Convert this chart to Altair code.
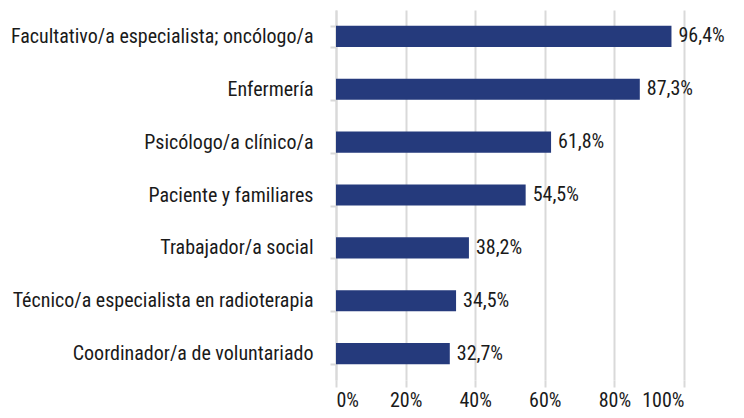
import altair as alt
import pandas as pd

categories = [
    "Facultativo/a especialista; oncólogo/a",
    "Enfermería",
    "Psicólogo/a clínico/a",
    "Paciente y familiares",
    "Trabajador/a social",
    "Técnico/a especialista en radioterapia",
    "Coordinador/a de voluntariado",
]
values = [96.4, 87.3, 61.8, 54.5, 38.2, 34.5, 32.7]

df = pd.DataFrame({"cat": categories, "v": [x / 100 for x in values]})

FONT = "Roboto Condensed, DejaVu Sans Condensed, sans-serif"
FS = 20

y = alt.Y("cat:N", sort=categories, title=None,
          scale=alt.Scale(paddingInner=0.6, paddingOuter=0.3),
          axis=alt.Axis(labelFont=FONT, labelFontSize=FS, labelColor="#1a1a1a",
                        labelPadding=17, tickBand="extent", tickColor="#d9d9d9",
                        tickSize=6, tickWidth=2, domainColor="#d9d9d9", domainWidth=2,
                        labelLimit=400))
x = alt.X("v:Q", title=None,
          scale=alt.Scale(domain=[0, 1], nice=False),
          axis=alt.Axis(format=".0%", values=[0, 0.2, 0.4, 0.6, 0.8, 1.0],
                        labelFont=FONT, labelFontSize=FS, labelColor="#1a1a1a",
                        gridColor="#d9d9d9", gridWidth=2, domain=False,
                        tickColor="#d9d9d9", tickWidth=2, tickSize=7, labelPadding=3))

base = alt.Chart(df)
bars = base.mark_bar(color="#253a7c").encode(x=x, y=y)
text = base.transform_calculate(
    lab="replace(format(datum.v, '.1%'), '.', ',')"
).mark_text(align="left", dx=7, font=FONT, fontSize=FS, color="#1a1a1a").encode(
    x="v:Q", y=alt.Y("cat:N", sort=categories), text="lab:N")

chart = (bars + text).properties(
    width=348, height=370,
    autosize=alt.AutoSizeParams(type="none"),
    padding={"left": 328, "top": 2, "right": 52, "bottom": 30},
).configure_view(stroke=None).configure_axis(gridOpacity=1)

chart.save("out.html", embed_options={"renderer": "svg", "actions": False})
